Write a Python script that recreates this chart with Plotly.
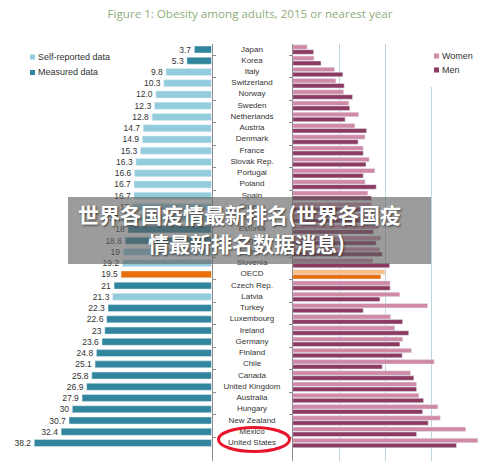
import plotly.graph_objects as go

# Data
countries = ["Japan", "Korea", "Italy", "Switzerland", "Norway", "Sweden", "Netherlands", "Austria",
             "Denmark", "France", "Slovak Rep.", "Portugal", "Poland", "Spain", "Greece", "Israel",
             "Estonia", "Belgium", "Iceland", "Slovenia", "OECD", "Czech Rep.", "Latvia", "Turkey",
             "Luxembourg", "Ireland", "Germany", "Finland", "Chile", "Canada", "United Kingdom",
             "Australia", "Hungary", "New Zealand", "Mexico", "United States"]
total_labels = ["3.7", "5.3", "9.8", "10.3", "12.0", "12.3", "12.8", "14.7", "14.9", "15.3", "16.3", "16.6",
                "16.7", "16.7", "17", "17.8", "18", "18.6", "19", "19.2", "19.5", "21", "21.3", "22.3",
                "22.6", "23", "23.6", "24.8", "25.1", "25.8", "26.9", "27.9", "30", "30.7", "32.4", "38.2"]
total = [float(v) for v in total_labels]
kind = ["m", "m", "s", "s", "s", "s", "s", "s", "s", "s", "s", "s", "s", "s", "s", "s", "m", "m", "s", "s",
        "o", "m", "s", "m", "m", "m", "m", "m", "m", "m", "m", "m", "m", "m", "m", "m"]
women = [3.1, 4.6, 9.0, 9.3, 11.0, 12.1, 14.2, 13.4, 15.6, 15.2, 16.5, 17.7, 15.6, 16.2, 17.0, 17.2,
         18.4, 19.0, 18.8, 17.3, 19.9, 21.0, 23.1, 29.1, 21.1, 22.0, 23.7, 25.6, 30.5, 25.4, 26.7,
         27.2, 31.3, 31.8, 37.3, 39.9]
men = [4.5, 6.1, 10.8, 11.1, 12.9, 12.3, 11.3, 15.9, 14.1, 15.2, 15.8, 15.2, 18.0, 17.0, 14.8, 18.0,
       17.4, 18.0, 19.3, 20.9, 19.0, 21.0, 18.8, 15.2, 23.7, 25.0, 23.1, 23.6, 19.3, 26.1, 26.7,
       28.2, 28.0, 29.2, 26.7, 35.3]

LIGHT = "#92CCDD"
DARK = "#31859C"
ORANGE = "#E8700A"
WOMEN = "#D08AA6"
MEN = "#8C3A60"
TEXT = "#333333"
W, H = 500, 461

fig = go.Figure()

# left panel, one trace per data type
for code, colour in [("s", LIGHT), ("m", DARK), ("o", ORANGE)]:
    idx = [i for i, k in enumerate(kind) if k == code]
    fig.add_trace(go.Bar(
        x=[total[i] for i in idx],
        y=[countries[i] for i in idx],
        text=[total_labels[i] for i in idx],
        orientation="h",
        width=0.62,
        marker_color=colour,
        textposition="outside",
        textangle=0,
        constraintext="none",
        cliponaxis=False,
        outsidetextfont=dict(family="Liberation Sans", size=8.5, color=TEXT),
        xaxis="x",
        yaxis="y",
    ))

# right panel
women_colours = ["#FBBE86" if c == "OECD" else WOMEN for c in countries]
men_colours = [ORANGE if c == "OECD" else MEN for c in countries]
fig.add_trace(go.Bar(x=women, y=countries, orientation="h", width=0.4, offset=-0.42,
                     marker_color=women_colours, xaxis="x2", yaxis="y2"))
fig.add_trace(go.Bar(x=men, y=countries, orientation="h", width=0.4, offset=0.02,
                     marker_color=men_colours, xaxis="x2", yaxis="y2"))

# country names down the middle
fig.add_trace(go.Scatter(
    x=[0] * len(countries),
    y=countries,
    text=countries,
    mode="text",
    textposition="middle center",
    textfont=dict(family="Liberation Sans", size=8, color=TEXT),
    cliponaxis=False,
    xaxis="x3",
    yaxis="y",
))

shapes = [
    # hides the gridlines behind the right legend
    dict(type="rect", xref="paper", yref="paper", x0=390 / W, x1=1, y0=1 - 87 / H, y1=1 - 30 / H,
         fillcolor="white", line_width=0, layer="above"),
    # grey band behind the caption
    dict(type="rect", xref="paper", yref="paper", x0=68 / W, x1=431 / W, y0=1 - 264 / H, y1=1 - 197 / H,
         fillcolor="rgba(95,95,95,0.62)", line_width=0, layer="above"),
    # red ring around Mexico / United States
    dict(type="circle", xref="paper", yref="paper", x0=218.5 / W, x1=289.5 / W, y0=1 - 451.5 / H, y1=1 - 427.5 / H,
         line=dict(color="#E8142C", width=3), layer="above"),
]

annotations = []

# hand placed legends
legend_items = [("Self-reported data", LIGHT, 30, 57), ("Measured data", DARK, 30, 72.5),
                ("Women", WOMEN, 434, 56), ("Men", MEN, 434, 70)]
for name, colour, lx, ly in legend_items:
    shapes.append(dict(type="rect", xref="paper", yref="paper", x0=lx / W, x1=(lx + 5) / W,
                       y0=1 - (ly + 2.5) / H, y1=1 - (ly - 2.5) / H, fillcolor=colour, line_width=0,
                       layer="above"))
    annotations.append(dict(text=name, xref="paper", yref="paper", x=(lx + 6) / W, y=1 - ly / H,
                            xanchor="left", yanchor="middle", showarrow=False,
                            font=dict(family="Liberation Sans", size=9, color=TEXT)))

# caption across the picture
caption_font = dict(family="Noto Sans CJK SC", size=21, color="white", weight="bold",
                    shadow="1px 1px 2px rgba(40,40,40,0.8)")
annotations.append(dict(text="世界各国疫情最新排名(世界各国疫", xref="paper", yref="paper", x=239 / W, y=1 - 214 / H,
                        showarrow=False, font=caption_font))
annotations.append(dict(text="情最新排名数据消息)", xref="paper", yref="paper", x=246 / W, y=1 - 243 / H,
                        showarrow=False, font=caption_font))

fig.update_layout(
    width=W,
    height=H,
    margin=dict(l=0, r=0, t=0, b=0),
    paper_bgcolor="white",
    plot_bgcolor="white",
    showlegend=False,
    barmode="overlay",
    title=dict(text="Figure 1: Obesity among adults, 2015 or nearest year", x=250 / W, y=1 - 14 / H,
               xanchor="center", yanchor="middle",
               font=dict(family="Open Sans", size=11.6, color="#8FAD7C")),
    shapes=shapes,
    annotations=annotations,
    xaxis=dict(domain=[25.9 / W, 211.5 / W], range=[40, 0], visible=False),
    xaxis2=dict(domain=[292.7 / W, 478.3 / W], range=[0, 40], dtick=10, showticklabels=False, ticks="",
                showgrid=True, gridcolor="#BDD5DE", gridwidth=1, zeroline=False, anchor="y2"),
    xaxis3=dict(domain=[0.434, 0.574], range=[-1, 1], visible=False, anchor="y"),
    yaxis=dict(domain=[0, 1 - 43.9 / H], type="category", categoryorder="array", categoryarray=countries,
               range=[36.6, -0.5], side="right", anchor="x", showticklabels=False, showgrid=False,
               showline=True, linecolor="#8C8C8C", linewidth=1, ticks="outside", ticklen=3,
               tickcolor="#8C8C8C", tickson="boundaries"),
    yaxis2=dict(domain=[0, 1 - 43.9 / H], matches="y", side="left", anchor="x2", showticklabels=False,
                showgrid=False, showline=True, linecolor="#8C8C8C", linewidth=1, ticks="outside", ticklen=3,
                tickcolor="#8C8C8C", tickson="boundaries"),
)

# the page's default body margin would push the figure 8px down and right
fig.write_html("out.html", config={"displayModeBar": False}, post_script="document.body.style.margin='0';")
